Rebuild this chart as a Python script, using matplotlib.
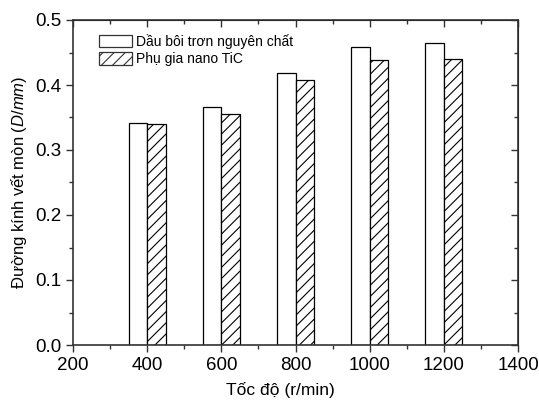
import numpy as np
import matplotlib
matplotlib.use("Agg")
import matplotlib.pyplot as plt
from matplotlib.ticker import MultipleLocator

plt.rcParams['font.family'] = ['Liberation Sans', 'DejaVu Sans']
plt.rcParams['mathtext.fontset'] = 'custom'
plt.rcParams['mathtext.rm'] = 'Liberation Sans'
plt.rcParams['mathtext.it'] = 'Liberation Sans:italic'
plt.rcParams['hatch.color'] = '#555555'
plt.rcParams['hatch.linewidth'] = 0.8

# toc do (r/min)
speeds = [400, 600, 800, 1000, 1200]
pure_oil = [0.342, 0.366, 0.418, 0.459, 0.464]
nano_tic = [0.340, 0.356, 0.407, 0.438, 0.440]
labels = ['Dầu bôi trơn nguyên chất', 'Phụ gia nano TiC']

fig = plt.figure(figsize=(5.39, 4.03), dpi=100)
ax = fig.add_axes([73 / 539, 58 / 403, 445 / 539, 325 / 403])

w = 50
x = np.array(speeds)
ax.bar(x - w / 2, pure_oil, width=w, color='white', edgecolor='black',
       linewidth=0.9, label=labels[0])
ax.bar(x + w / 2, nano_tic, width=w, color='white', edgecolor='black',
       linewidth=0.9, hatch='///', label=labels[1])

ax.set_xlim(200, 1400)
ax.set_ylim(0, 0.5)
ax.xaxis.set_major_locator(MultipleLocator(200))
ax.xaxis.set_minor_locator(MultipleLocator(100))
ax.yaxis.set_major_locator(MultipleLocator(0.1))
ax.yaxis.set_minor_locator(MultipleLocator(0.05))
ax.yaxis.set_major_formatter(plt.FormatStrFormatter('%.1f'))

ax.tick_params(which='both', direction='out', top=False, right=False,
               labelsize=13.5, width=1, color='#333333')
ax.tick_params(which='major', length=5)
ax.tick_params(which='minor', length=3)

# mirrored ticks on top/right, pointing in
for sec in (ax.secondary_xaxis('top'), ax.secondary_yaxis('right')):
    sec.tick_params(which='both', direction='in', labeltop=False,
                    labelright=False, width=1, color='#333333')
    sec.tick_params(which='major', length=5)
    sec.tick_params(which='minor', length=3)
for sec in ax.child_axes:
    sec.xaxis.set_major_locator(MultipleLocator(200))
    sec.xaxis.set_minor_locator(MultipleLocator(100))
    sec.yaxis.set_major_locator(MultipleLocator(0.1))
    sec.yaxis.set_minor_locator(MultipleLocator(0.05))
    sec.xaxis.set_major_formatter(plt.NullFormatter())
    sec.yaxis.set_major_formatter(plt.NullFormatter())

for s in ax.spines.values():
    s.set_linewidth(1.2)
    s.set_color('#333333')

ax.set_xlabel('Tốc độ (r/min)', fontsize=12.5)
ax.xaxis.set_label_coords(0.465, -0.115)
ax.set_ylabel('Đường kính vết mòn ($\\mathit{D/mm}$)', fontsize=12, labelpad=4)

leg = ax.legend(loc='upper left', fontsize=10, frameon=False,
                handlelength=2.4, handleheight=1.0, handletextpad=0.3,
                labelspacing=0.25, borderaxespad=0.5,
                bbox_to_anchor=(0.03, 0.995))
for h in leg.legend_handles:
    h.set_edgecolor('#333333')

fig.savefig('out.png', dpi=100)
